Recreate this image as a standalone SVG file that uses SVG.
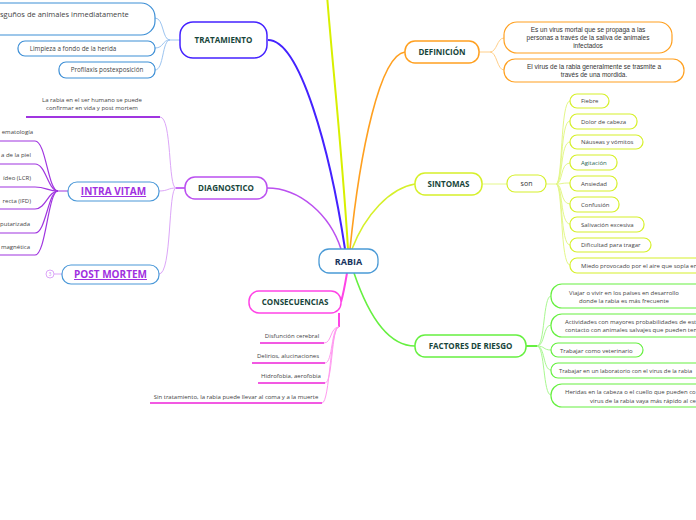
<svg xmlns="http://www.w3.org/2000/svg" width="696" height="520" viewBox="0 0 696 520">
<style>
text{font-family:"Open Sans","Liberation Sans",sans-serif;fill:#444;}
.main{font-weight:bold;font-size:8px;fill:#17453a;text-anchor:middle;}
.sm{font-size:6px;}
.ar{font-family:"Liberation Sans",Arial,sans-serif;font-size:6.5px;fill:#333;text-anchor:middle;}
.mid{text-anchor:middle;}
.link{font-weight:bold;font-size:10px;fill:#a030e0;text-anchor:middle;text-decoration:underline;}
.c{fill:none;}
.box{fill:#fff;}
#c-items text{text-anchor:middle;}
</style>
<g id="connectors" class="c">
  <path d="M348,249 C342,150 332,60 327,-5" stroke="#d8f000" stroke-width="2" fill="none"/>
  <path d="M268,40 C300,40 330,150 345,249" stroke="#4422ff" stroke-width="2" fill="none"/>
  <path d="M267,188 C300,188 330,215 341,249" stroke="#bb50f0" stroke-width="1.6" fill="none"/>
  <path d="M350,249 C360,150 380,55 405,52" stroke="#ffa020" stroke-width="1.6" fill="none"/>
  <path d="M352,249 C365,215 390,188 415,184" stroke="#d6f02a" stroke-width="1.6" fill="none"/>
  <path d="M347,273 C345,285 343,295 341,302" stroke="#ff44e6" stroke-width="2" fill="none"/>
  <path d="M354,273 C370,320 390,346 415,346" stroke="#66f040" stroke-width="1.6" fill="none"/>
  <g stroke="#9cc4f0" stroke-width="1" fill="none">
    <path d="M180,40 L170,40 C162,40 164,18 155,18"/>
    <path d="M170,40 C162,40 164,48 155,48"/>
    <path d="M170,40 C162,40 164,70 155,70"/>
  </g>
  <g stroke="#ffcf8a" stroke-width="1" fill="none">
    <path d="M479,52 L490,52 C497,52 497,38 504,38"/>
    <path d="M490,52 C497,52 497,70 504,70"/>
  </g>
  <g stroke="#e4f78a" stroke-width="1" fill="none">
    <path d="M482,184 L507,184"/>
    <path d="M546,184 L556,184 C563,184 560,101 570,101"/>
    <path d="M556,184 C563,184 560,121 570,121"/>
    <path d="M556,184 C563,184 560,142 570,142"/>
    <path d="M556,184 C563,184 560,163 570,163"/>
    <path d="M556,184 C563,184 560,183 570,183"/>
    <path d="M556,184 C563,184 560,204 570,204"/>
    <path d="M556,184 C563,184 560,224 570,224"/>
    <path d="M556,184 C563,184 560,245 570,245"/>
    <path d="M556,184 C563,184 560,265 570,265"/>
  </g>
  <g stroke="#a8f890" stroke-width="1" fill="none">
    <path d="M526,346 L537,346 C545,346 543,296 551,296"/>
    <path d="M537,346 C545,346 543,325 551,325"/>
    <path d="M537,346 C545,346 543,350 551,350"/>
    <path d="M537,346 C545,346 543,370 551,370"/>
    <path d="M537,346 C545,346 543,395 551,395"/>
  </g>
  <path d="M526,346 L537,346" stroke="#66f040" stroke-width="2" fill="none"/>
  <g stroke="#dca6f8" stroke-width="1" fill="none">
    <path d="M185,188 L176,188 C168,188 172,117 160,117"/>
    <path d="M176,188 C168,188 168,191 159,191"/>
    <path d="M176,188 C168,188 172,274 159,274"/>
  </g>
  <path d="M185,188 L176,188" stroke="#bb50f0" stroke-width="1.6" fill="none"/>
  <path d="M26,117 L160,117" stroke="#a035e0" stroke-width="2" fill="none"/>
  <path d="M54,274 L62,274" stroke="#dca6f8" stroke-width="1" fill="none"/>
  <g stroke="#a035e0" stroke-width="1.2" fill="none">
    <path d="M68,191 L58,191 C48,191 46,141 35,141 L0,141"/>
    <path d="M58,191 C48,191 46,164 35,164 L0,164"/>
    <path d="M58,191 C48,191 46,187 35,187 L0,187"/>
    <path d="M58,191 C48,191 46,209 35,209 L0,209"/>
    <path d="M58,191 C48,191 46,233 35,233 L0,233"/>
    <path d="M58,191 C48,191 46,255 35,255 L0,255"/>
  </g>
  <path d="M339,313 L339,327" stroke="#ff44e6" stroke-width="2" fill="none"/>
  <g stroke="#ff9af0" stroke-width="1" fill="none">
    <path d="M339,327 C330,327 332,343 324,343"/>
    <path d="M339,327 C331,327 333,363 325,363"/>
    <path d="M339,327 C331,327 333,383 325,383"/>
    <path d="M339,327 C330,327 330,403 322,403"/>
  </g>
  <g stroke="#ee22d8" stroke-width="1.6" fill="none">
    <path d="M260,343 L324,343"/>
    <path d="M252,363 L325,363"/>
    <path d="M258,383 L325,383"/>
    <path d="M150,403 L322,403"/>
  </g>
</g>

<g id="rabia">
  <rect class="box" x="319" y="249" width="59" height="24" rx="10" stroke="#4a9ad6" stroke-width="1.3"/>
  <text x="348.5" y="264.5" class="main" style="font-size:9px;fill:#17345e">RABIA</text>
</g>

<g id="tratamiento">
  <rect class="box" x="180" y="22" width="87" height="36" rx="13" stroke="#4422ff" stroke-width="1.5"/>
  <text x="223.5" y="43" class="main">TRATAMIENTO</text>
</g>
<g id="trat1">
  <rect class="box" x="-60" y="3" width="215" height="32" rx="14" stroke="#3d8fd6" stroke-width="1.2"/>
  <text x="0" y="16.5" style="font-size:7.5px">sguños de animales inmediatamente</text>
</g>
<g id="trat2">
  <rect class="box" x="18" y="41" width="137" height="15" rx="7" stroke="#3d8fd6" stroke-width="1.2"/>
  <text x="73" y="50.5" class="mid" style="font-size:6.3px">Limpieza a fondo de la herida</text>
</g>
<g id="trat3">
  <rect class="box" x="59" y="62" width="96" height="16" rx="7" stroke="#3d8fd6" stroke-width="1.2"/>
  <text x="107" y="72" class="mid" style="font-size:6.3px">Profilaxis postexposición</text>
</g>

<g id="definicion">
  <rect class="box" x="405" y="41" width="74" height="22" rx="10" stroke="#ffa020" stroke-width="1.5"/>
  <text x="442" y="55" class="main">DEFINICIÓN</text>
</g>
<g id="def1">
  <rect class="box" x="504" y="22" width="168" height="31" rx="13" stroke="#ffa020" stroke-width="1.2"/>
  <text class="ar"><tspan x="588" y="32">Es un virus mortal que se propaga a las</tspan><tspan x="588" y="40">personas a través de la saliva de animales</tspan><tspan x="588" y="48">infectados</tspan></text>
</g>
<g id="def2">
  <rect class="box" x="504" y="59" width="180" height="23" rx="11" stroke="#ffa020" stroke-width="1.2"/>
  <text class="ar"><tspan x="594" y="69">El virus de la rabia generalmente se trasmite a</tspan><tspan x="594" y="77">través de una mordida.</tspan></text>
</g>

<g id="sintomas">
  <rect class="box" x="415" y="173" width="67" height="22" rx="10" stroke="#d6f02a" stroke-width="1.5"/>
  <text x="448.5" y="187" class="main">SINTOMAS</text>
</g>
<g id="son">
  <rect class="box" x="507" y="175" width="39" height="17" rx="8" stroke="#d6f02a" stroke-width="1.2"/>
  <text x="526.5" y="186" class="mid" style="font-size:7px;fill:#333">son</text>
</g>
<g id="s1"><rect class="box" x="570" y="94" width="39" height="14" rx="7" stroke="#d6f02a" stroke-width="1.2"/><text x="581" y="103" class="sm">Fiebre</text></g>
<g id="s2"><rect class="box" x="570" y="114" width="67" height="15" rx="7" stroke="#d6f02a" stroke-width="1.2"/><text x="581" y="123.5" class="sm">Dolor de cabeza</text></g>
<g id="s3"><rect class="box" x="570" y="135" width="73" height="14" rx="7" stroke="#d6f02a" stroke-width="1.2"/><text x="581" y="144" class="sm">Náuseas y vómitos</text></g>
<g id="s4"><rect class="box" x="570" y="155" width="47" height="15" rx="7" stroke="#d6f02a" stroke-width="1.2"/><text x="581" y="164.5" class="sm" style="fill:#2a6a55">Agitación</text></g>
<g id="s5"><rect class="box" x="570" y="176" width="47" height="15" rx="7" stroke="#d6f02a" stroke-width="1.2"/><text x="581" y="185.5" class="sm">Ansiedad</text></g>
<g id="s6"><rect class="box" x="570" y="197" width="49" height="15" rx="7" stroke="#d6f02a" stroke-width="1.2"/><text x="581" y="206.5" class="sm">Confusión</text></g>
<g id="s7"><rect class="box" x="570" y="217" width="74" height="15" rx="7" stroke="#d6f02a" stroke-width="1.2"/><text x="581" y="226.5" class="sm">Salivación excesiva</text></g>
<g id="s8"><rect class="box" x="570" y="238" width="81" height="14" rx="7" stroke="#d6f02a" stroke-width="1.2"/><text x="581" y="247" class="sm">Dificultad para tragar</text></g>
<g id="s9"><rect class="box" x="570" y="258" width="140" height="15" rx="7" stroke="#d6f02a" stroke-width="1.2"/><text x="581" y="267.5" class="sm">Miedo provocado por el aire que sopla en</text></g>

<g id="factores">
  <rect class="box" x="415" y="335" width="111" height="22" rx="10" stroke="#66f040" stroke-width="1.5"/>
  <text x="470.5" y="349" class="main">FACTORES DE RIESGO</text>
</g>
<g id="f1"><rect class="box" x="551" y="284" width="160" height="24" rx="11" stroke="#66f040" stroke-width="1.2"/><text class="sm mid"><tspan x="624" y="294.5">Viajar o vivir en los países en desarrollo</tspan><tspan x="624" y="302.5">donde la rabia es más frecuente</tspan></text></g>
<g id="f2"><rect class="box" x="551" y="314" width="160" height="23" rx="11" stroke="#66f040" stroke-width="1.2"/><text class="sm"><tspan x="565" y="324">Actividades con mayores probabilidades de est</tspan><tspan x="565" y="332">contacto con animales salvajes que pueden ten</tspan></text></g>
<g id="f3"><rect class="box" x="551" y="343" width="92" height="14" rx="7" stroke="#66f040" stroke-width="1.2"/><text x="560" y="352.5" class="sm">Trabajar como veterinario</text></g>
<g id="f4"><rect class="box" x="551" y="363" width="160" height="15" rx="7" stroke="#66f040" stroke-width="1.2"/><text x="559" y="372.5" class="sm" style="font-size:5.8px">Trabajar en un laboratorio con el virus de la rabia</text></g>
<g id="f5"><rect class="box" x="551" y="384" width="160" height="23" rx="11" stroke="#66f040" stroke-width="1.2"/><text class="sm"><tspan x="565" y="394">Heridas en la cabeza o el cuello que pueden co</tspan><tspan x="590" y="402.5">virus de la rabia vaya más rápido al ce</tspan></text></g>

<g id="diagnostico">
  <rect class="box" x="185" y="177" width="82" height="22" rx="10" stroke="#bb50f0" stroke-width="1.5"/>
  <text x="226" y="191" class="main">DIAGNOSTICO</text>
</g>
<g id="d1">
  <text class="sm mid"><tspan x="92" y="101.5">La rabia en el ser humano se puede</tspan><tspan x="92" y="110">confirmar en vida y post mortem</tspan></text>
</g>
<g id="intravitam">
  <rect class="box" x="68" y="182" width="91" height="19" rx="9" stroke="#4a98d8" stroke-width="1.2"/>
  <text x="113.5" y="195" class="link">INTRA VITAM</text>
</g>
<g id="postmortem">
  <rect class="box" x="62" y="265" width="97" height="19" rx="9" stroke="#4a98d8" stroke-width="1.2"/>
  <text x="110.5" y="278" class="link">POST MORTEM</text>
  <circle cx="50" cy="274" r="4" fill="#fff" stroke="#dca6f8" stroke-width="1"/>
  <text x="50" y="276" class="mid" style="font-size:4.5px;fill:#c080f0">3</text>
</g>
<g id="iv-items" class="sm">
  <text x="33" y="134" style="text-anchor:end">ematología</text>
  <text x="31" y="157" style="text-anchor:end">a de la piel</text>
  <text x="31" y="180" style="text-anchor:end">ídeo (LCR)</text>
  <text x="31" y="203" style="text-anchor:end">recta (IFD)</text>
  <text x="30" y="225.5" style="text-anchor:end">putarizada</text>
  <text x="30" y="249" style="text-anchor:end">magnética</text>
</g>

<g id="consecuencias">
  <rect class="box" x="249" y="291" width="92" height="22" rx="10" stroke="#ff44e6" stroke-width="1.5"/>
  <text x="295" y="305" class="main">CONSECUENCIAS</text>
</g>
<g id="c-items" class="sm">
  <text x="292" y="338">Disfunción cerebral</text>
  <text x="288" y="358">Delirios, alucinaciones</text>
  <text x="291" y="378">Hidrofobia, aerofobia</text>
  <text x="236" y="398.5">Sin tratamiento, la rabia puede llevar al coma y a la muerte</text>
</g>
</svg>
